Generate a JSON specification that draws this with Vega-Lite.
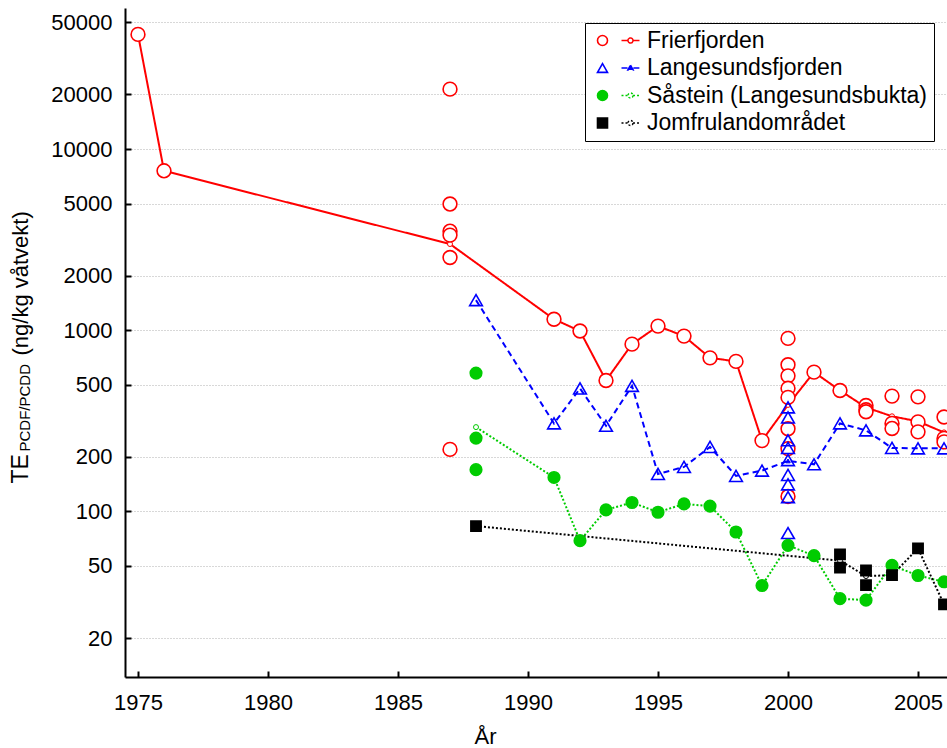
{
  "$schema": "https://vega.github.io/schema/vega-lite/v6.json",
  "width": 822,
  "height": 669,
  "autosize": "none",
  "padding": {"left": 125, "top": 8, "right": 0, "bottom": 71},
  "background": "white",
  "config": {
    "font": "Liberation Sans",
    "view": {"stroke": null},
    "axis": {"domainColor": "black", "tickColor": "black", "labelColor": "black", "titleColor": "black", "labelFont": "Liberation Sans", "titleFont": "Liberation Sans", "titleFontWeight": "normal"},
    "legend": {"labelFont": "Liberation Sans"}
  },
  "datasets": {
    "samples": [
      {"s": "Frierfjorden", "year": 1975, "v": 42900},
      {"s": "Frierfjorden", "year": 1976, "v": 7580},
      {"s": "Frierfjorden", "year": 1987, "v": 21400},
      {"s": "Frierfjorden", "year": 1987, "v": 4970},
      {"s": "Frierfjorden", "year": 1987, "v": 3520},
      {"s": "Frierfjorden", "year": 1987, "v": 3350},
      {"s": "Frierfjorden", "year": 1987, "v": 2520},
      {"s": "Frierfjorden", "year": 1987, "v": 220},
      {"s": "Frierfjorden", "year": 1991, "v": 1150},
      {"s": "Frierfjorden", "year": 1992, "v": 990},
      {"s": "Frierfjorden", "year": 1993, "v": 528},
      {"s": "Frierfjorden", "year": 1994, "v": 838},
      {"s": "Frierfjorden", "year": 1995, "v": 1054},
      {"s": "Frierfjorden", "year": 1996, "v": 928},
      {"s": "Frierfjorden", "year": 1997, "v": 704},
      {"s": "Frierfjorden", "year": 1998, "v": 673},
      {"s": "Frierfjorden", "year": 1999, "v": 246},
      {"s": "Frierfjorden", "year": 2000, "v": 901},
      {"s": "Frierfjorden", "year": 2000, "v": 645},
      {"s": "Frierfjorden", "year": 2000, "v": 560},
      {"s": "Frierfjorden", "year": 2000, "v": 478},
      {"s": "Frierfjorden", "year": 2000, "v": 426},
      {"s": "Frierfjorden", "year": 2000, "v": 286},
      {"s": "Frierfjorden", "year": 2000, "v": 222},
      {"s": "Frierfjorden", "year": 2000, "v": 121},
      {"s": "Frierfjorden", "year": 2001, "v": 587},
      {"s": "Frierfjorden", "year": 2002, "v": 465},
      {"s": "Frierfjorden", "year": 2003, "v": 384},
      {"s": "Frierfjorden", "year": 2003, "v": 364},
      {"s": "Frierfjorden", "year": 2003, "v": 355},
      {"s": "Frierfjorden", "year": 2004, "v": 433},
      {"s": "Frierfjorden", "year": 2004, "v": 306},
      {"s": "Frierfjorden", "year": 2004, "v": 287},
      {"s": "Frierfjorden", "year": 2005, "v": 429},
      {"s": "Frierfjorden", "year": 2005, "v": 312},
      {"s": "Frierfjorden", "year": 2005, "v": 275},
      {"s": "Frierfjorden", "year": 2006, "v": 332},
      {"s": "Frierfjorden", "year": 2006, "v": 253},
      {"s": "Frierfjorden", "year": 2006, "v": 242},
      {"s": "Langesundsfjorden", "year": 1988, "v": 1466},
      {"s": "Langesundsfjorden", "year": 1991, "v": 306},
      {"s": "Langesundsfjorden", "year": 1992, "v": 477},
      {"s": "Langesundsfjorden", "year": 1993, "v": 297},
      {"s": "Langesundsfjorden", "year": 1994, "v": 493},
      {"s": "Langesundsfjorden", "year": 1995, "v": 161},
      {"s": "Langesundsfjorden", "year": 1996, "v": 176},
      {"s": "Langesundsfjorden", "year": 1997, "v": 227},
      {"s": "Langesundsfjorden", "year": 1998, "v": 157},
      {"s": "Langesundsfjorden", "year": 1999, "v": 168},
      {"s": "Langesundsfjorden", "year": 2000, "v": 375},
      {"s": "Langesundsfjorden", "year": 2000, "v": 330},
      {"s": "Langesundsfjorden", "year": 2000, "v": 247},
      {"s": "Langesundsfjorden", "year": 2000, "v": 224},
      {"s": "Langesundsfjorden", "year": 2000, "v": 192},
      {"s": "Langesundsfjorden", "year": 2000, "v": 159},
      {"s": "Langesundsfjorden", "year": 2000, "v": 141},
      {"s": "Langesundsfjorden", "year": 2000, "v": 120},
      {"s": "Langesundsfjorden", "year": 2000, "v": 76},
      {"s": "Langesundsfjorden", "year": 2001, "v": 182},
      {"s": "Langesundsfjorden", "year": 2002, "v": 306},
      {"s": "Langesundsfjorden", "year": 2003, "v": 280},
      {"s": "Langesundsfjorden", "year": 2004, "v": 224},
      {"s": "Langesundsfjorden", "year": 2005, "v": 223},
      {"s": "Langesundsfjorden", "year": 2006, "v": 223},
      {"s": "Såstein (Langesundsbukta)", "year": 1988, "v": 580},
      {"s": "Såstein (Langesundsbukta)", "year": 1988, "v": 254},
      {"s": "Såstein (Langesundsbukta)", "year": 1988, "v": 170},
      {"s": "Såstein (Langesundsbukta)", "year": 1991, "v": 154},
      {"s": "Såstein (Langesundsbukta)", "year": 1992, "v": 69},
      {"s": "Såstein (Langesundsbukta)", "year": 1993, "v": 102},
      {"s": "Såstein (Langesundsbukta)", "year": 1994, "v": 112},
      {"s": "Såstein (Langesundsbukta)", "year": 1995, "v": 99},
      {"s": "Såstein (Langesundsbukta)", "year": 1996, "v": 110},
      {"s": "Såstein (Langesundsbukta)", "year": 1997, "v": 107},
      {"s": "Såstein (Langesundsbukta)", "year": 1998, "v": 77},
      {"s": "Såstein (Langesundsbukta)", "year": 1999, "v": 39},
      {"s": "Såstein (Langesundsbukta)", "year": 2000, "v": 65},
      {"s": "Såstein (Langesundsbukta)", "year": 2001, "v": 57},
      {"s": "Såstein (Langesundsbukta)", "year": 2002, "v": 33},
      {"s": "Såstein (Langesundsbukta)", "year": 2003, "v": 32.4},
      {"s": "Såstein (Langesundsbukta)", "year": 2004, "v": 50.4},
      {"s": "Såstein (Langesundsbukta)", "year": 2005, "v": 44.3},
      {"s": "Såstein (Langesundsbukta)", "year": 2006, "v": 40.9},
      {"s": "Jomfrulandområdet", "year": 1988, "v": 83},
      {"s": "Jomfrulandområdet", "year": 2002, "v": 58},
      {"s": "Jomfrulandområdet", "year": 2002, "v": 49},
      {"s": "Jomfrulandområdet", "year": 2003, "v": 47.2},
      {"s": "Jomfrulandområdet", "year": 2003, "v": 39.2},
      {"s": "Jomfrulandområdet", "year": 2004, "v": 44.5},
      {"s": "Jomfrulandområdet", "year": 2005, "v": 62.5},
      {"s": "Jomfrulandområdet", "year": 2006, "v": 30.7}
    ],
    "means": [
      {"ls": "a", "year": 1975, "v": 42900, "n": 1},
      {"ls": "a", "year": 1976, "v": 7580, "n": 1},
      {"ls": "a", "year": 1987, "v": 2990, "n": 6},
      {"ls": "a", "year": 1991, "v": 1150, "n": 1},
      {"ls": "a", "year": 1992, "v": 990, "n": 1},
      {"ls": "a", "year": 1993, "v": 528, "n": 1},
      {"ls": "a", "year": 1994, "v": 838, "n": 1},
      {"ls": "a", "year": 1995, "v": 1054, "n": 1},
      {"ls": "a", "year": 1996, "v": 928, "n": 1},
      {"ls": "a", "year": 1997, "v": 704, "n": 1},
      {"ls": "a", "year": 1998, "v": 673, "n": 1},
      {"ls": "a", "year": 1999, "v": 246, "n": 1},
      {"ls": "a", "year": 2000, "v": 387, "n": 8},
      {"ls": "a", "year": 2001, "v": 587, "n": 1},
      {"ls": "a", "year": 2002, "v": 465, "n": 1},
      {"ls": "a", "year": 2003, "v": 375, "n": 3},
      {"ls": "a", "year": 2004, "v": 335, "n": 3},
      {"ls": "a", "year": 2005, "v": 314, "n": 3},
      {"ls": "a", "year": 2006, "v": 273, "n": 3},
      {"ls": "b", "year": 1988, "v": 1466, "n": 1},
      {"ls": "b", "year": 1991, "v": 306, "n": 1},
      {"ls": "b", "year": 1992, "v": 477, "n": 1},
      {"ls": "b", "year": 1993, "v": 297, "n": 1},
      {"ls": "b", "year": 1994, "v": 493, "n": 1},
      {"ls": "b", "year": 1995, "v": 161, "n": 1},
      {"ls": "b", "year": 1996, "v": 176, "n": 1},
      {"ls": "b", "year": 1997, "v": 227, "n": 1},
      {"ls": "b", "year": 1998, "v": 157, "n": 1},
      {"ls": "b", "year": 1999, "v": 168, "n": 1},
      {"ls": "b", "year": 2000, "v": 190, "n": 9},
      {"ls": "b", "year": 2001, "v": 182, "n": 1},
      {"ls": "b", "year": 2002, "v": 306, "n": 1},
      {"ls": "b", "year": 2003, "v": 280, "n": 1},
      {"ls": "b", "year": 2004, "v": 224, "n": 1},
      {"ls": "b", "year": 2005, "v": 223, "n": 1},
      {"ls": "b", "year": 2006, "v": 223, "n": 1},
      {"ls": "c", "year": 1988, "v": 292, "n": 3},
      {"ls": "c", "year": 1991, "v": 154, "n": 1},
      {"ls": "c", "year": 1992, "v": 69, "n": 1},
      {"ls": "c", "year": 1993, "v": 102, "n": 1},
      {"ls": "c", "year": 1994, "v": 112, "n": 1},
      {"ls": "c", "year": 1995, "v": 99, "n": 1},
      {"ls": "c", "year": 1996, "v": 110, "n": 1},
      {"ls": "c", "year": 1997, "v": 107, "n": 1},
      {"ls": "c", "year": 1998, "v": 77, "n": 1},
      {"ls": "c", "year": 1999, "v": 39, "n": 1},
      {"ls": "c", "year": 2000, "v": 65, "n": 1},
      {"ls": "c", "year": 2001, "v": 57, "n": 1},
      {"ls": "c", "year": 2002, "v": 33, "n": 1},
      {"ls": "c", "year": 2003, "v": 32.4, "n": 1},
      {"ls": "c", "year": 2004, "v": 50.4, "n": 1},
      {"ls": "c", "year": 2005, "v": 44.3, "n": 1},
      {"ls": "c", "year": 2006, "v": 40.9, "n": 1},
      {"ls": "d", "year": 1988, "v": 83, "n": 1},
      {"ls": "d", "year": 2002, "v": 53.5, "n": 2},
      {"ls": "d", "year": 2003, "v": 44, "n": 2},
      {"ls": "d", "year": 2004, "v": 44.5, "n": 1},
      {"ls": "d", "year": 2005, "v": 62.5, "n": 1},
      {"ls": "d", "year": 2006, "v": 30.7, "n": 1}
    ]
  },
  "resolve": {
    "scale": {"color": "independent", "stroke": "independent", "fill": "independent", "shape": "independent", "strokeDash": "independent", "size": "independent"},
    "legend": {"color": "independent", "stroke": "independent", "fill": "independent", "shape": "independent", "strokeDash": "independent"},
    "axis": {"x": "independent", "y": "independent"}
  },
  "layer": [
    {
      "data": {"name": "means"},
      "resolve": {"axis": {"y": "independent"}},
      "layer": [
        {
          "mark": {"type": "line", "strokeWidth": 2},
          "encoding": {
            "x": {"field": "year", "type": "quantitative", "scale": {"domain": [1974.5, 2006.115], "nice": false, "zero": false},
              "axis": {"orient": "top", "labels": false, "title": null, "grid": false, "values": [1975, 1980, 1985, 1990, 1995, 2000, 2005], "tickSize": -6, "tickWidth": 2, "domainWidth": 2}},
            "y": {"field": "v", "type": "quantitative", "scale": {"type": "log", "domain": [12.2, 60000], "nice": false},
              "axis": {"orient": "left", "domain": false, "ticks": false, "labels": false, "grid": false, "title": "PCDF/PCDD", "titleFontSize": 15, "titleAngle": -90, "titleAlign": "left", "titleBaseline": "alphabetic", "titleX": -95.5, "titleY": 443}},
            "color": {"field": "ls", "type": "nominal", "scale": {"domain": ["a", "b", "c", "d"], "range": ["#ff0000", "#0000ff", "#00cc00", "#000000"]},
              "legend": {"orient": "none", "legendX": 488, "legendY": 15, "title": null, "padding": 6, "labelFontSize": 23, "labelOffset": 33, "rowPadding": 3.5, "labelOpacity": 0, "labelExpr": "''", "symbolSize": 324, "symbolStrokeWidth": 1.5, "zindex": 2,
                "encode": {"symbols": {"update": {"shape": {"signal": "datum.value === 'b' ? 'M-1,0L-0.32,0M0.32,0L1,0M0,-0.32L0.3,0.22L-0.3,0.22Z' : 'M-1,0L-0.28,0M0.28,0L1,0M0.28,0A0.28,0.28 0 1 1 -0.28,0A0.28,0.28 0 1 1 0.28,0Z'"}, "fill": {"signal": "datum.value === 'b' ? '#0000ff' : 'white'"}}}}}},
            "strokeDash": {"field": "ls", "type": "nominal", "scale": {"domain": ["a", "b", "c", "d"], "range": [[1, 0], [6, 4], [2, 2], [2, 2]]},
              "legend": {"orient": "none", "legendX": 488, "legendY": 15, "title": null, "padding": 6, "labelFontSize": 23, "labelOffset": 33, "rowPadding": 3.5, "labelOpacity": 0, "labelExpr": "''", "symbolSize": 324, "symbolStrokeWidth": 1.5, "zindex": 2,
                "encode": {"symbols": {"update": {"shape": {"signal": "datum.value === 'b' ? 'M-1,0L-0.32,0M0.32,0L1,0M0,-0.32L0.3,0.22L-0.3,0.22Z' : 'M-1,0L-0.28,0M0.28,0L1,0M0.28,0A0.28,0.28 0 1 1 -0.28,0A0.28,0.28 0 1 1 0.28,0Z'"}, "fill": {"signal": "datum.value === 'b' ? '#0000ff' : 'white'"}}}}}}
          }
        },
        {
          "transform": [{"filter": "datum.n > 1 && datum.ls != 'b'"}],
          "mark": {"type": "point", "shape": "circle", "size": 25, "filled": false, "fill": "white", "strokeWidth": 1, "opacity": 1},
          "encoding": {
            "x": {"field": "year", "type": "quantitative", "scale": {"domain": [1974.5, 2006.115], "nice": false, "zero": false}, "axis": null},
            "y": {"field": "v", "type": "quantitative", "scale": {"type": "log", "domain": [12.2, 60000], "nice": false},
              "axis": {"orient": "left", "domain": false, "ticks": false, "labels": false, "grid": false, "title": "(ng/kg våtvekt)", "titleFontSize": 22, "titleAngle": -90, "titleAlign": "left", "titleBaseline": "alphabetic", "titleX": -97.5, "titleY": 347}},
            "color": {"field": "ls", "type": "nominal", "scale": {"domain": ["a", "b", "c", "d"], "range": ["#ff0000", "#0000ff", "#00cc00", "#000000"]},
              "legend": {"orient": "none", "legendX": 488, "legendY": 15, "title": null, "padding": 6, "labelFontSize": 23, "labelOffset": 33, "rowPadding": 3.5, "labelOpacity": 0, "labelExpr": "''", "symbolSize": 324, "symbolStrokeWidth": 1.5, "zindex": 2,
                "encode": {"symbols": {"update": {"shape": {"signal": "datum.value === 'b' ? 'M-1,0L-0.32,0M0.32,0L1,0M0,-0.32L0.3,0.22L-0.3,0.22Z' : 'M-1,0L-0.28,0M0.28,0L1,0M0.28,0A0.28,0.28 0 1 1 -0.28,0A0.28,0.28 0 1 1 0.28,0Z'"}, "fill": {"signal": "datum.value === 'b' ? '#0000ff' : 'white'"}}}}}}
          }
        },
        {
          "transform": [{"filter": "datum.n > 1 && datum.ls == 'b'"}],
          "mark": {"type": "point", "shape": "triangle-up", "size": 20, "filled": true, "fill": "#0000ff", "stroke": "#0000ff", "strokeWidth": 1, "opacity": 1},
          "encoding": {
            "x": {"field": "year", "type": "quantitative", "scale": {"domain": [1974.5, 2006.115], "nice": false, "zero": false}, "axis": null},
            "y": {"field": "v", "type": "quantitative", "scale": {"type": "log", "domain": [12.2, 60000], "nice": false}, "axis": null}
          }
        }
      ]
    },
    {
      "data": {"name": "samples"},
      "layer": [
        {
          "mark": {"type": "point", "strokeWidth": 1.6, "opacity": 1},
          "encoding": {
            "x": {"field": "year", "type": "quantitative", "scale": {"domain": [1974.5, 2006.115], "nice": false, "zero": false},
              "axis": {"orient": "bottom", "values": [1975, 1980, 1985, 1990, 1995, 2000, 2005], "format": "d", "grid": false, "tickSize": -6, "tickWidth": 2, "domainWidth": 2, "labelPadding": 21, "labelFontSize": 22, "labelFlush": false, "labelOverlap": false,
                "title": "År", "titleFontSize": 22, "titleX": 360, "titleY": 66, "titleAlign": "center", "titleBaseline": "alphabetic"}},
            "y": {"field": "v", "type": "quantitative", "scale": {"type": "log", "domain": [12.2, 60000], "nice": false},
              "axis": {"orient": "left", "values": [20, 50, 100, 200, 500, 1000, 2000, 5000, 10000, 20000, 50000], "format": "d", "tickSize": -6, "tickWidth": 2, "domainWidth": 2, "labelPadding": 19, "labelFontSize": 22, "labelFlush": false, "labelOverlap": false,
                "grid": true, "gridColor": "#b0b0b0", "gridDash": [1, 2], "gridWidth": 1,
                "title": "TE", "titleFontSize": 23, "titleAngle": -90, "titleAlign": "left", "titleBaseline": "alphabetic", "titleX": -97.5, "titleY": 475}},
            "shape": {"field": "s", "type": "nominal", "scale": {"domain": ["Frierfjorden", "Langesundsfjorden", "Såstein (Langesundsbukta)", "Jomfrulandområdet"], "range": ["circle", "triangle-up", "circle", "square"]},
              "legend": {"orient": "none", "legendX": 460, "legendY": 15, "title": null, "padding": 6, "strokeColor": "black", "fillColor": "white", "labelFontSize": 23, "labelColor": "black", "labelOffset": 33, "rowPadding": 3.5, "symbolStrokeWidth": 1.6, "labelLimit": 400, "zindex": 1,
                "encode": {"symbols": {"update": {"size": {"signal": "datum.value === 'Langesundsfjorden' ? 70 : datum.value === 'Jomfrulandområdet' ? 90 : datum.value === 'Frierfjorden' ? 140 : 170"}}}}}},
            "stroke": {"field": "s", "type": "nominal", "scale": {"domain": ["Frierfjorden", "Langesundsfjorden", "Såstein (Langesundsbukta)", "Jomfrulandområdet"], "range": ["#ff0000", "#0000ff", "#00cc00", "#000000"]},
              "legend": {"orient": "none", "legendX": 460, "legendY": 15, "title": null, "padding": 6, "strokeColor": "black", "fillColor": "white", "labelFontSize": 23, "labelColor": "black", "labelOffset": 33, "rowPadding": 3.5, "symbolStrokeWidth": 1.6, "labelLimit": 400, "zindex": 1,
                "encode": {"symbols": {"update": {"size": {"signal": "datum.value === 'Langesundsfjorden' ? 70 : datum.value === 'Jomfrulandområdet' ? 90 : datum.value === 'Frierfjorden' ? 140 : 170"}}}}}},
            "fill": {"field": "s", "type": "nominal", "scale": {"domain": ["Frierfjorden", "Langesundsfjorden", "Såstein (Langesundsbukta)", "Jomfrulandområdet"], "range": ["white", "transparent", "#00cc00", "#000000"]},
              "legend": {"orient": "none", "legendX": 460, "legendY": 15, "title": null, "padding": 6, "strokeColor": "black", "fillColor": "white", "labelFontSize": 23, "labelColor": "black", "labelOffset": 33, "rowPadding": 3.5, "symbolStrokeWidth": 1.6, "labelLimit": 400, "zindex": 1,
                "encode": {"symbols": {"update": {"size": {"signal": "datum.value === 'Langesundsfjorden' ? 70 : datum.value === 'Jomfrulandområdet' ? 90 : datum.value === 'Frierfjorden' ? 140 : 170"}}}}}},
            "size": {"field": "s", "type": "nominal", "scale": {"domain": ["Jomfrulandområdet", "Såstein (Langesundsbukta)", "Langesundsfjorden", "Frierfjorden"], "range": [105, 190, 95, 169]}, "legend": null}
          }
        }
      ]
    }
  ]
}
